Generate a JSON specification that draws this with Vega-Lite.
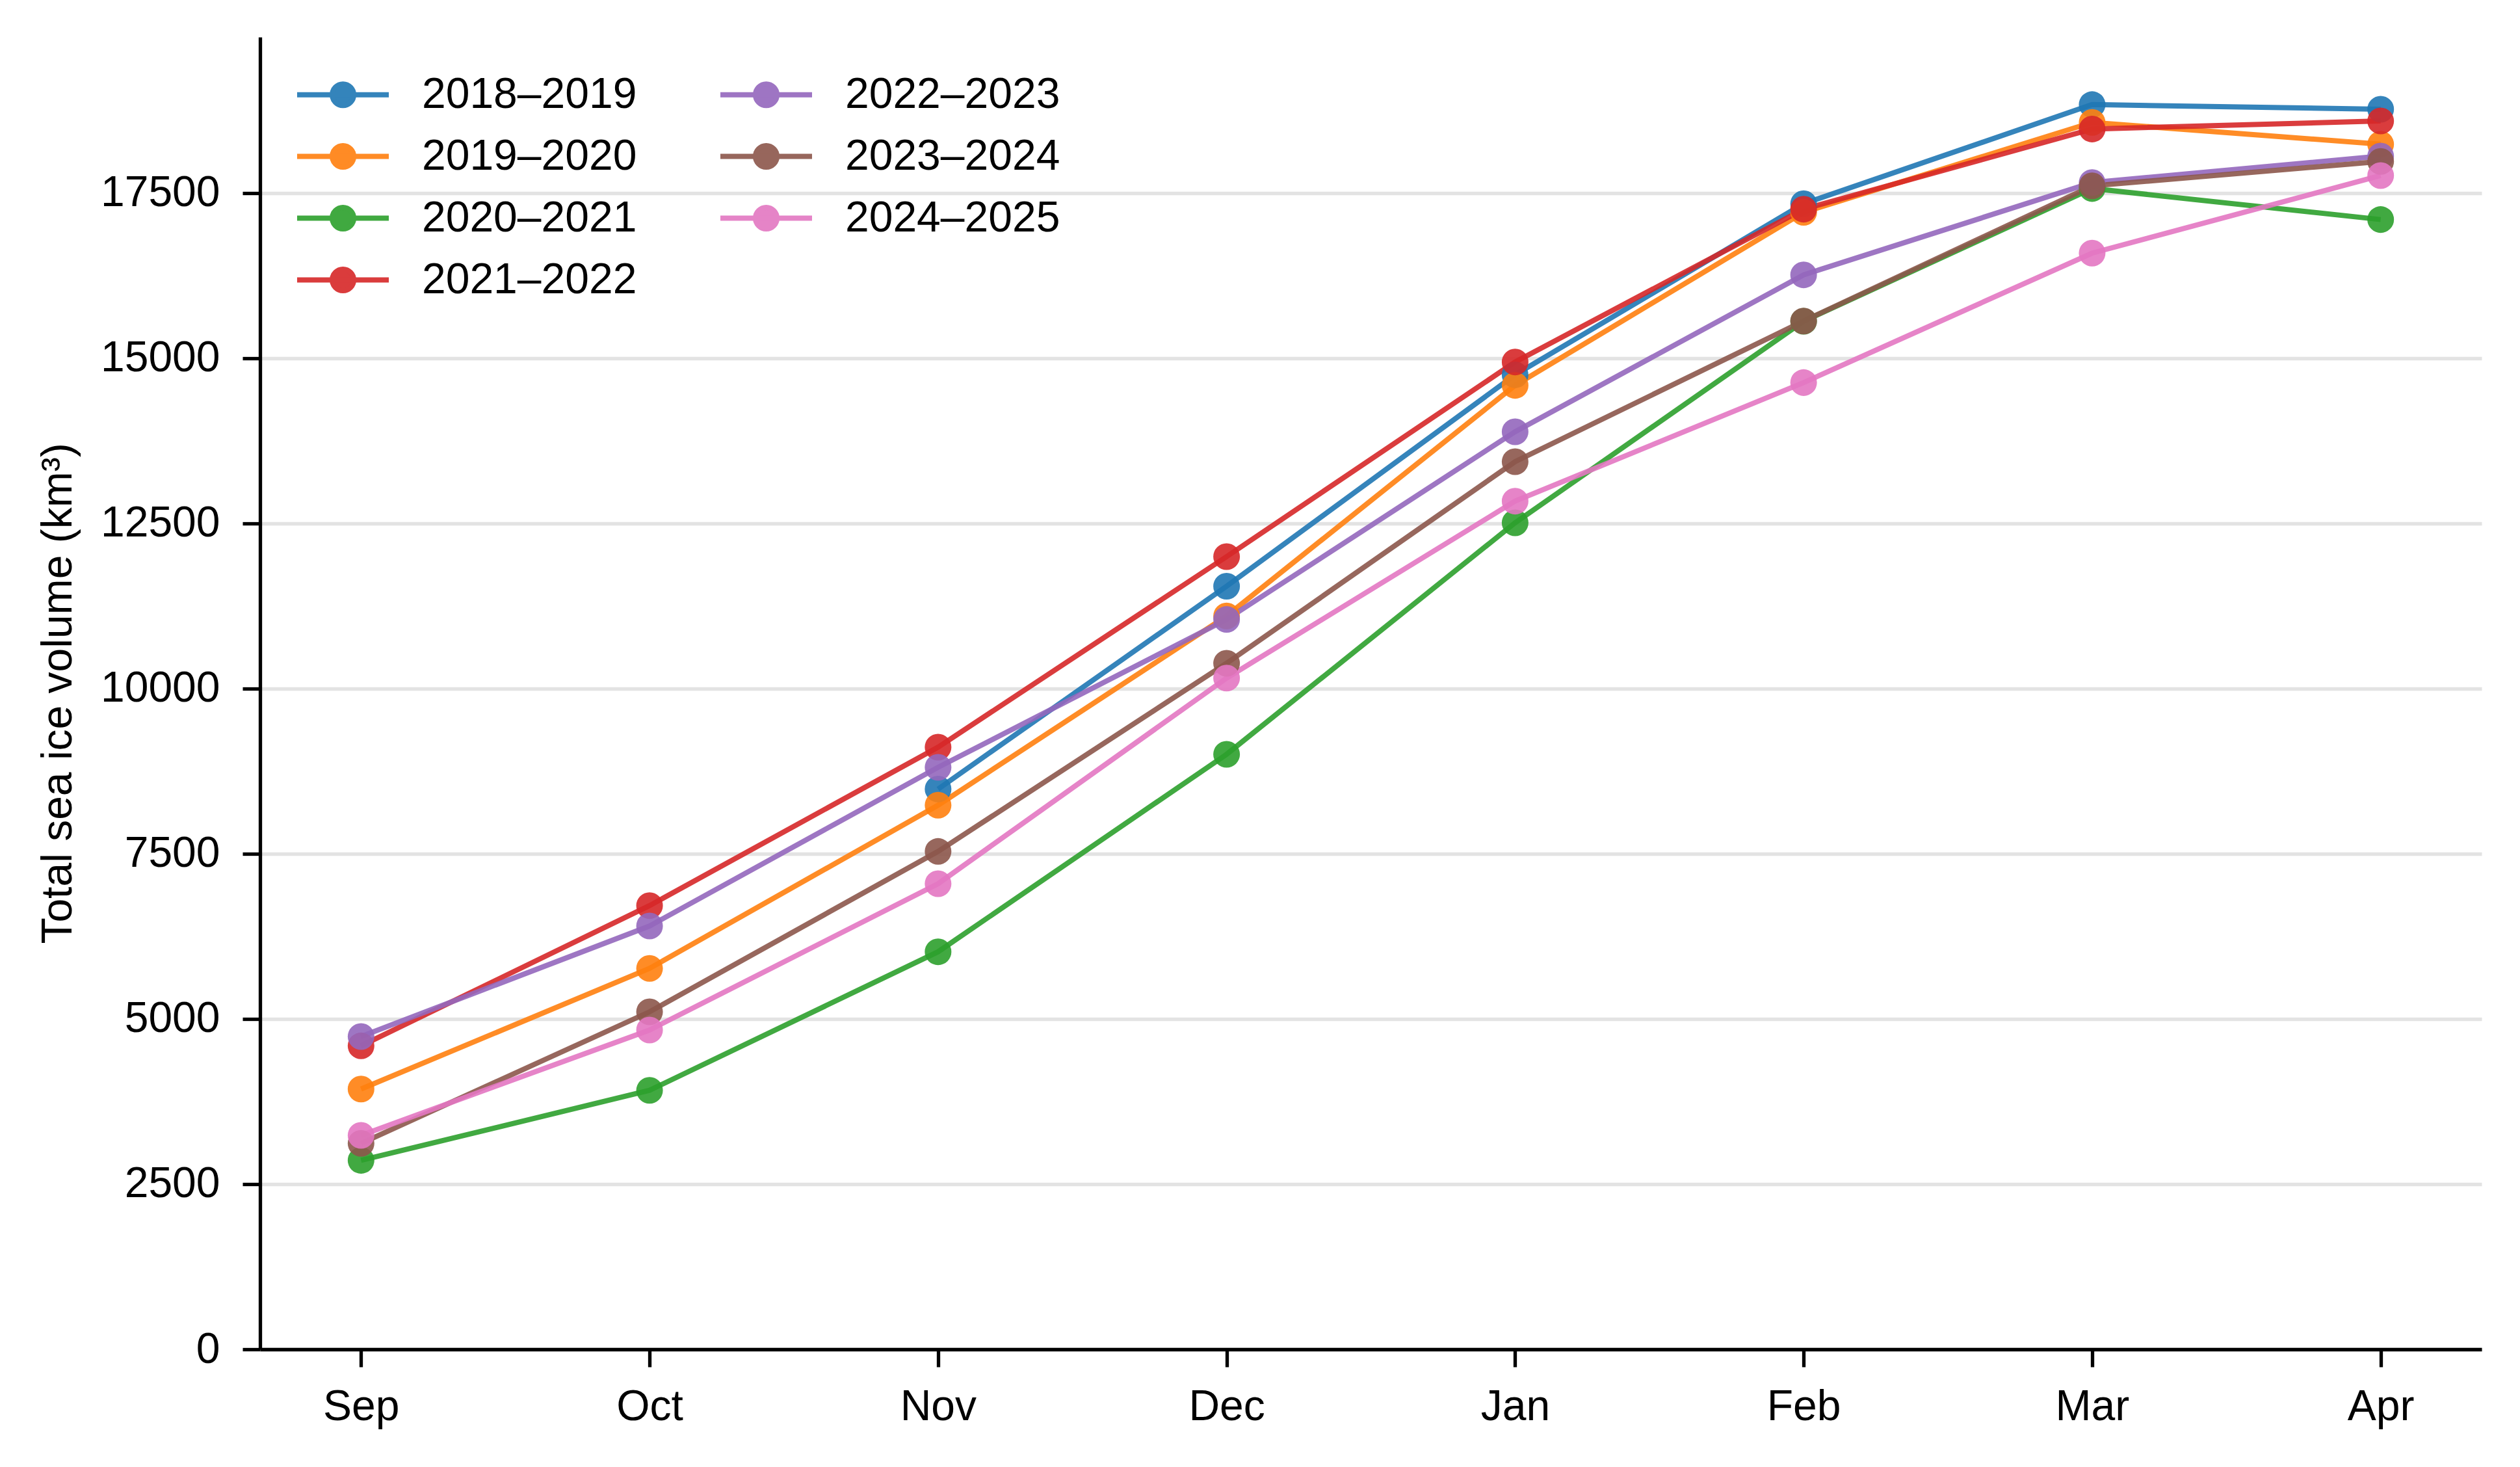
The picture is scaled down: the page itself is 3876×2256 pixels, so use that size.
{
  "$schema": "https://vega.github.io/schema/vega-lite/v6.json",
  "autosize": {"type": "none"},
  "padding": {"left": 400, "top": 57, "right": 59, "bottom": 181},
  "width": 3417,
  "height": 2018,
  "background": "white",
  "config": {"view": {"stroke": null}, "font": "Liberation Sans"},
  "data": {"values": [
    {"month": "Nov", "season": "2018–2019", "volume": 8480},
    {"month": "Dec", "season": "2018–2019", "volume": 11550},
    {"month": "Jan", "season": "2018–2019", "volume": 14750},
    {"month": "Feb", "season": "2018–2019", "volume": 17340},
    {"month": "Mar", "season": "2018–2019", "volume": 18840},
    {"month": "Apr", "season": "2018–2019", "volume": 18770},
    {"month": "Sep", "season": "2019–2020", "volume": 3940},
    {"month": "Oct", "season": "2019–2020", "volume": 5765},
    {"month": "Nov", "season": "2019–2020", "volume": 8235},
    {"month": "Dec", "season": "2019–2020", "volume": 11100},
    {"month": "Jan", "season": "2019–2020", "volume": 14590},
    {"month": "Feb", "season": "2019–2020", "volume": 17210},
    {"month": "Mar", "season": "2019–2020", "volume": 18570},
    {"month": "Apr", "season": "2019–2020", "volume": 18240},
    {"month": "Sep", "season": "2020–2021", "volume": 2860},
    {"month": "Oct", "season": "2020–2021", "volume": 3920},
    {"month": "Nov", "season": "2020–2021", "volume": 6017},
    {"month": "Dec", "season": "2020–2021", "volume": 9006},
    {"month": "Jan", "season": "2020–2021", "volume": 12510},
    {"month": "Feb", "season": "2020–2021", "volume": 15560},
    {"month": "Mar", "season": "2020–2021", "volume": 17570},
    {"month": "Apr", "season": "2020–2021", "volume": 17100},
    {"month": "Sep", "season": "2021–2022", "volume": 4593},
    {"month": "Oct", "season": "2021–2022", "volume": 6716},
    {"month": "Nov", "season": "2021–2022", "volume": 9114},
    {"month": "Dec", "season": "2021–2022", "volume": 11998},
    {"month": "Jan", "season": "2021–2022", "volume": 14944},
    {"month": "Feb", "season": "2021–2022", "volume": 17257},
    {"month": "Mar", "season": "2021–2022", "volume": 18470},
    {"month": "Apr", "season": "2021–2022", "volume": 18592},
    {"month": "Sep", "season": "2022–2023", "volume": 4734},
    {"month": "Oct", "season": "2022–2023", "volume": 6407},
    {"month": "Nov", "season": "2022–2023", "volume": 8809},
    {"month": "Dec", "season": "2022–2023", "volume": 11047},
    {"month": "Jan", "season": "2022–2023", "volume": 13888},
    {"month": "Feb", "season": "2022–2023", "volume": 16263},
    {"month": "Mar", "season": "2022–2023", "volume": 17660},
    {"month": "Apr", "season": "2022–2023", "volume": 18061},
    {"month": "Sep", "season": "2023–2024", "volume": 3117},
    {"month": "Oct", "season": "2023–2024", "volume": 5108},
    {"month": "Nov", "season": "2023–2024", "volume": 7536},
    {"month": "Dec", "season": "2023–2024", "volume": 10384},
    {"month": "Jan", "season": "2023–2024", "volume": 13435},
    {"month": "Feb", "season": "2023–2024", "volume": 15564},
    {"month": "Mar", "season": "2023–2024", "volume": 17610},
    {"month": "Apr", "season": "2023–2024", "volume": 17979},
    {"month": "Sep", "season": "2024–2025", "volume": 3238},
    {"month": "Oct", "season": "2024–2025", "volume": 4833},
    {"month": "Nov", "season": "2024–2025", "volume": 7047},
    {"month": "Dec", "season": "2024–2025", "volume": 10160},
    {"month": "Jan", "season": "2024–2025", "volume": 12838},
    {"month": "Feb", "season": "2024–2025", "volume": 14632},
    {"month": "Mar", "season": "2024–2025", "volume": 16592},
    {"month": "Apr", "season": "2024–2025", "volume": 17766}
  ]},
  "encoding": {
    "x": {
      "field": "month", "type": "ordinal",
      "sort": ["Sep", "Oct", "Nov", "Dec", "Jan", "Feb", "Mar", "Apr"],
      "scale": {"type": "point", "padding": 0.35},
      "axis": {
        "title": null, "labelAngle": 0, "grid": false,
        "tickSize": 27, "tickWidth": 5.3, "tickColor": "black",
        "domainColor": "black", "domainWidth": 5.3,
        "labelFontSize": 66, "labelFont": "Liberation Sans", "labelColor": "black",
        "labelPadding": 29, "labelLimit": 0
      }
    },
    "y": {
      "field": "volume", "type": "quantitative",
      "scale": {"domain": [0, 19862], "nice": false},
      "axis": {
        "values": [0, 2500, 5000, 7500, 10000, 12500, 15000, 17500],
        "format": "d",
        "grid": true, "gridColor": "#e3e3e3", "gridWidth": 5.3,
        "tickSize": 27, "tickWidth": 5.3, "tickColor": "black",
        "domainColor": "black", "domainWidth": 5.3,
        "labelFontSize": 66, "labelFont": "Liberation Sans", "labelColor": "black",
        "labelPadding": 35, "labelLimit": 0,
        "title": "Total sea ice volume (km³)",
        "titleFontSize": 66, "titleFont": "Liberation Sans", "titleFontWeight": "normal",
        "titleColor": "black", "titleLimit": 0,
        "titleX": -277, "titleY": 1009, "titleAngle": -90, "titleBaseline": "bottom", "titleAlign": "center"
      }
    },
    "color": {
      "field": "season", "type": "nominal",
      "scale": {
        "domain": ["2018–2019", "2019–2020", "2020–2021", "2021–2022", "2022–2023", "2023–2024", "2024–2025"],
        "range": ["#1f77b4", "#ff7f0e", "#2ca02c", "#d62728", "#9467bd", "#8c564b", "#e377c2"]
      },
      "legend": {
        "orient": "none", "legendX": 94, "legendY": 55,
        "columns": 2, "title": null, "padding": 0,
        "symbolType": "M-2.39,0H2.39M-0.56,0A0.56,0.56,0,1,0,0.56,0A0.56,0.56,0,1,0,-0.56,0Z",
        "symbolSize": 3481, "symbolStrokeWidth": 8, "symbolOpacity": 0.9,
        "labelFontSize": 66, "labelFont": "Liberation Sans", "labelColor": "black",
        "labelOffset": 88, "labelLimit": 0, "rowPadding": 28, "columnPadding": 111,
        "encode": {"symbols": {"update": {
          "fill": {"scale": "color", "field": "value"},
          "stroke": {"scale": "color", "field": "value"}
        }}}
      }
    }
  },
  "layer": [
    {"mark": {"type": "line", "strokeWidth": 8, "opacity": 0.9}},
    {"mark": {"type": "point", "shape": "circle", "filled": true, "size": 1681, "opacity": 0.9}}
  ]
}
